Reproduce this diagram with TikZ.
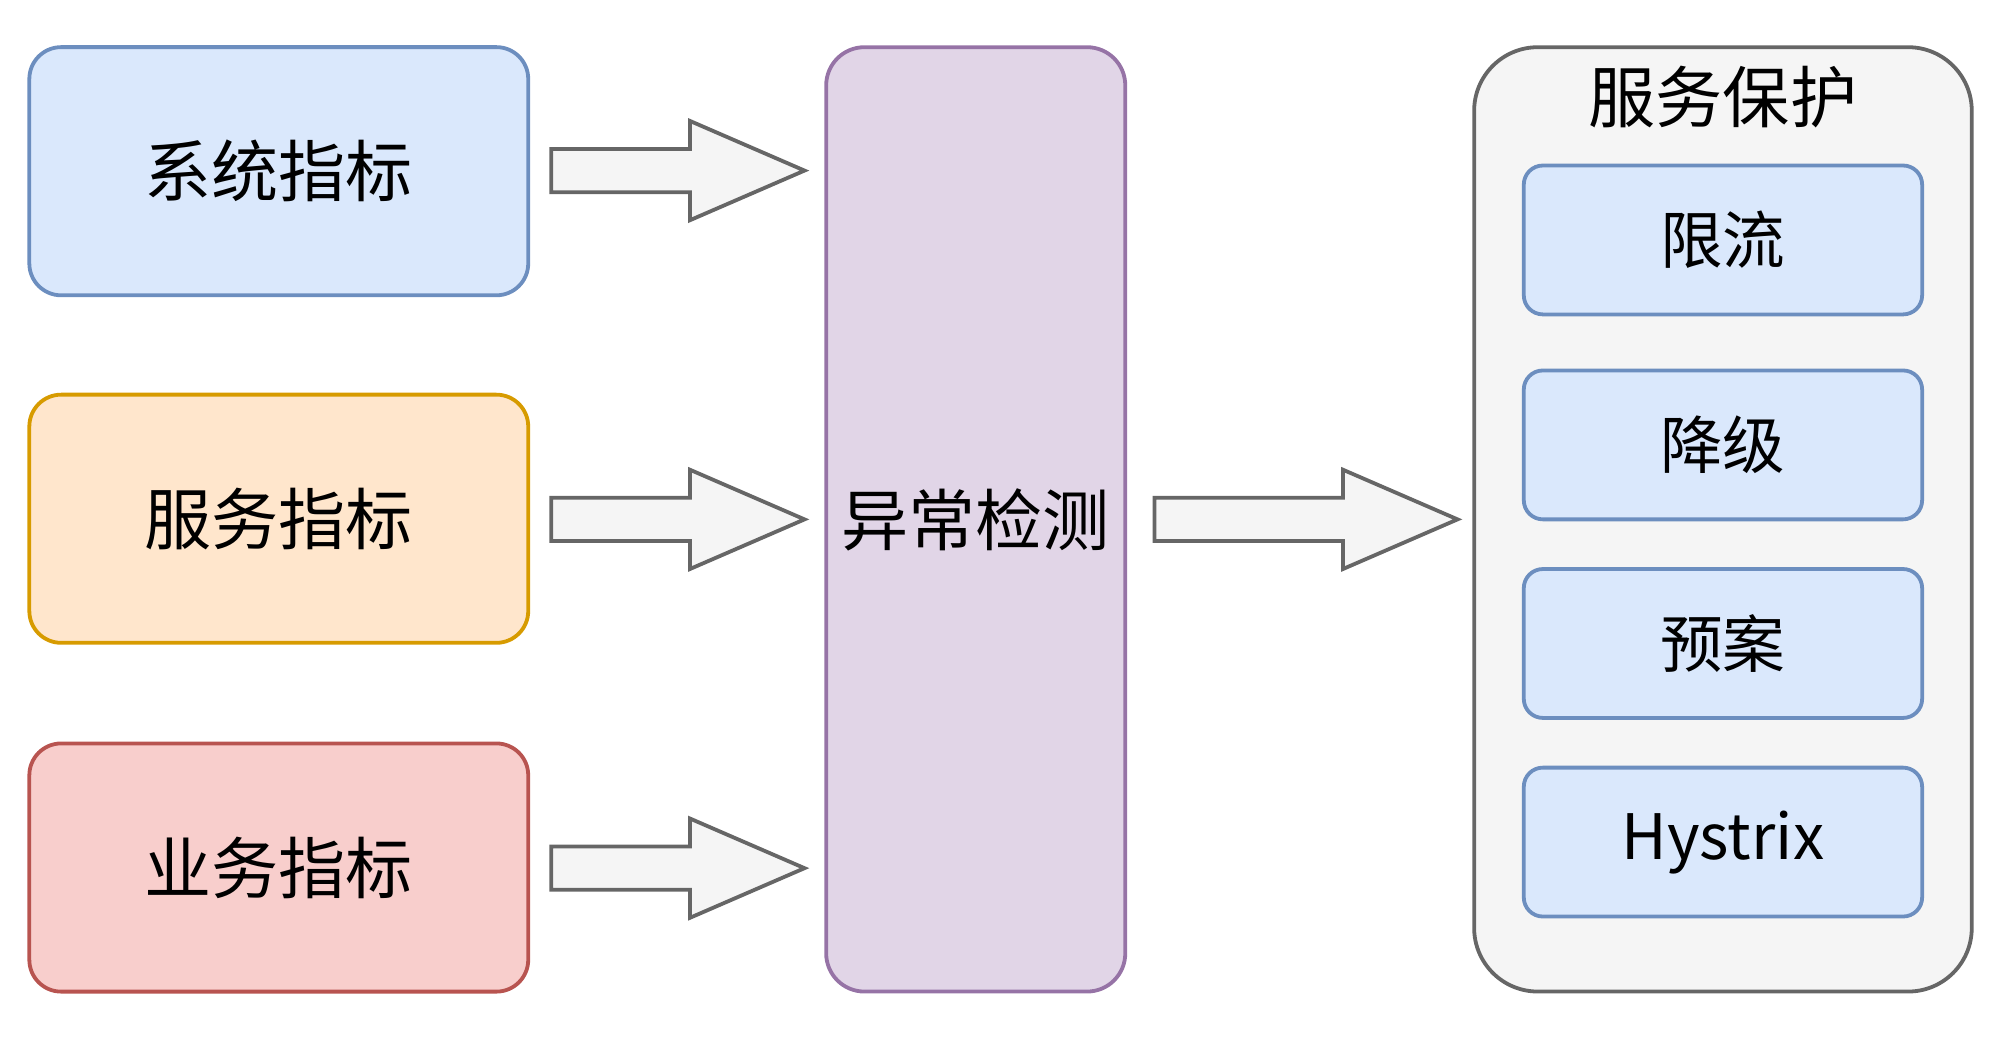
\documentclass[tikz,border=0pt]{standalone}
\usepackage{fontspec}
\setmainfont{Noto Sans CJK SC}
\usetikzlibrary{positioning,calc}
\definecolor{blueF}{HTML}{DAE8FC}\definecolor{blueD}{HTML}{6C8EBF}
\definecolor{orangeF}{HTML}{FFE6CC}\definecolor{orangeD}{HTML}{D79B00}
\definecolor{redF}{HTML}{F8CECC}\definecolor{redD}{HTML}{B85450}
\definecolor{purpleF}{HTML}{E1D5E7}\definecolor{purpleD}{HTML}{9673A6}
\definecolor{grayF}{HTML}{F5F5F5}\definecolor{grayD}{HTML}{666666}
% block arrow from #1 to #2, head starts #3 before the tip
\newcommand{\blockarrow}[3]{%
  \draw[bigarrow] ($(#1)+(0,-17)$) -- ($(#2)+(-#3,-17)$) -- ($(#2)+(-#3,-39)$) -- (#2)
    -- ($(#2)+(-#3,39)$) -- ($(#2)+(-#3,17)$) -- ($(#1)+(0,17)$) -- cycle;}
\begin{document}
\begin{tikzpicture}[x=0.02cm,y=-0.02cm,
    box/.style={draw, rounded corners=0.5cm, line width=1.7pt, minimum width=7.84cm, minimum height=3.9cm, font=\fontsize{30}{34}\selectfont},
    sub/.style={draw=blueD, fill=blueF, rounded corners=0.3cm, line width=1.7pt, minimum width=6.26cm, minimum height=2.34cm, font=\fontsize{28}{32}\selectfont},
    bigarrow/.style={draw=grayD, fill=grayF, line width=1.7pt, line join=miter}]
    \useasboundingbox (0,0) rectangle (1568,815);
    % metrics
    \node[box, fill=blueF, draw=blueD] (sys) at (219,134.5) {系统指标};
    \node[box, fill=orangeF, draw=orangeD] (svc) at (219,407.5) {服务指标};
    \node[box, fill=redF, draw=redD] (biz) at (219,681.5) {业务指标};
    % detection
    \node[draw=purpleD, fill=purpleF, rounded corners=0.6cm, line width=1.7pt, minimum width=4.7cm, minimum height=14.84cm, font=\fontsize{30}{34}\selectfont] (det) at (766.5,408) {异常检测};
    % protection
    \node[draw=grayD, fill=grayF, rounded corners=1cm, line width=1.7pt, minimum width=7.82cm, minimum height=14.84cm] (prot) at (1353.5,408) {};
    \node[font=\fontsize{30}{34}\selectfont] (protT) at (1353.5,76) {服务保护};
    \node[sub] (lim) at (1353.5,188.5) {限流};
    \node[sub] (deg) at (1353.5,349.5) {降级};
    \node[sub] (plan) at (1353.5,505.5) {预案};
    \node[sub] (hys) at (1353.5,661.5) {Hystrix};
    % arrows
    \coordinate (a1) at (433,134); \coordinate (a1e) at (632,134);
    \coordinate (a2) at (433,408); \coordinate (a2e) at (632,408);
    \coordinate (a3) at (433,682); \coordinate (a3e) at (632,682);
    \coordinate (a4) at (907,408); \coordinate (a4e) at (1145,408);
    \blockarrow{a1}{a1e}{90}
    \blockarrow{a2}{a2e}{90}
    \blockarrow{a3}{a3e}{90}
    \blockarrow{a4}{a4e}{90}
\end{tikzpicture}
\end{document}
